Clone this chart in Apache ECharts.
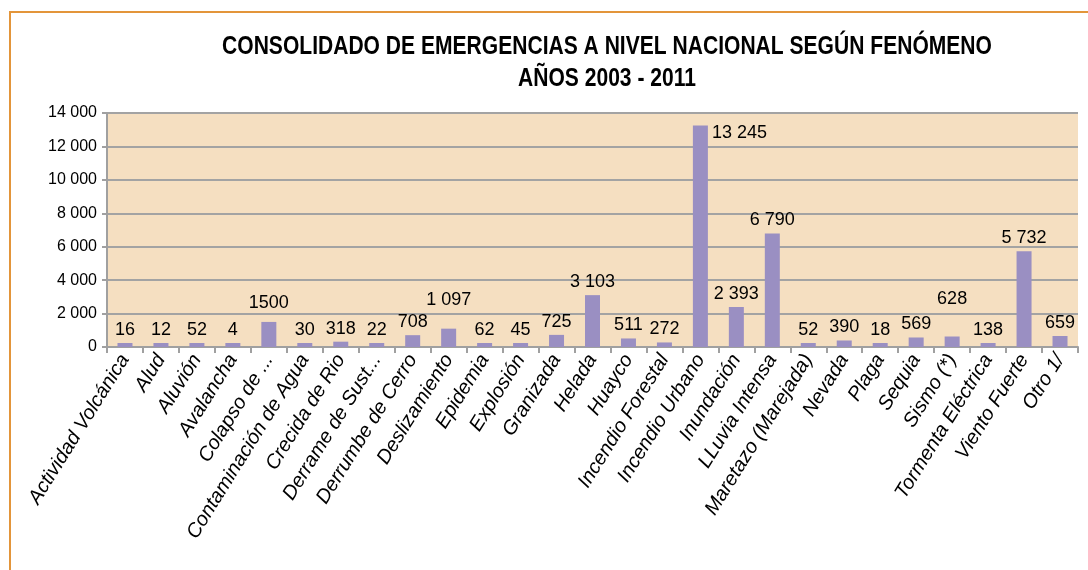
<!DOCTYPE html>
<html>
<head>
<meta charset="utf-8">
<script src="https://cdn.jsdelivr.net/npm/echarts@6/dist/echarts.min.js"></script>
<style>
  html, body { margin: 0; padding: 0; background: #ffffff; }
  #chart { width: 1088px; height: 570px; }
</style>
</head>
<body>
<div id="chart"></div>
<script>
// Emergencias por fenómeno, 2003 - 2011
const titleLines = [
  'CONSOLIDADO DE EMERGENCIAS A NIVEL NACIONAL SEGÚN FENÓMENO',
  'AÑOS 2003 - 2011'
];
const categories = [
  'Actividad Volcánica', 'Alud', 'Aluvión', 'Avalancha', 'Colapso de ...',
  'Contaminación de Agua', 'Crecida de Rio', 'Derrame de Sust...', 'Derrumbe de Cerro',
  'Deslizamiento', 'Epidemia', 'Explosión', 'Granizada', 'Helada', 'Huayco',
  'Incendio Forestal', 'Incendio Urbano', 'Inundación', 'LLuvia Intensa',
  'Maretazo (Marejada)', 'Nevada', 'Plaga', 'Sequia', 'Sismo (*)',
  'Tormenta Eléctrica', 'Viento Fuerte', 'Otro 1/'
];
const emergencias = [
  16, 12, 52, 4, 1500,
  30, 318, 22, 708,
  1097, 62, 45, 725, 3103, 511,
  272, 13245, 2393, 6790,
  52, 390, 18, 569, 628,
  138, 5732, 659
];
const yTicks = [0, 2000, 4000, 6000, 8000, 10000, 12000, 14000];

// categories whose value label is written without a thousands separator
const plainLabels = ['Colapso de ...'];
// extra vertical lift (px) for some value labels
const labelLift = { 'Colapso de ...': 6, 'Deslizamiento': 16, 'Sismo (*)': 24 };

function groupThousands(v) {
  return String(v).replace(/\B(?=(\d{3})+(?!\d))/g, ' ');
}

const seriesData = emergencias.map((v, i) => {
  const name = categories[i];
  const item = { value: v };
  if (name === 'Incendio Urbano') {
    item.label = { position: [19, -2], align: 'left', verticalAlign: 'top' };
  } else if (labelLift[name]) {
    item.label = { offset: [0, -labelLift[name]] };
  }
  return item;
});

// condensed bold heading, drawn as graphic text so it can be narrowed
const titleGraphics = titleLines.map((line, i) => ({
  type: 'text',
  x: 607,
  y: 47 + i * 32,
  scaleX: 0.81,
  silent: true,
  style: {
    text: line,
    x: 0,
    y: 0,
    align: 'center',
    verticalAlign: 'middle',
    font: "bold 26px 'Liberation Sans', Arial, sans-serif",
    fill: '#000000'
  }
}));

const chart = echarts.init(document.getElementById('chart'), null, { renderer: 'canvas' });

chart.setOption({
  animation: false,
  backgroundColor: '#ffffff',
  graphic: [{
    type: 'rect',
    shape: { x: 10, y: 12, width: 1100, height: 600 },
    style: { fill: 'none', stroke: '#E3953A', lineWidth: 2 },
    silent: true
  }].concat(titleGraphics),
  grid: {
    left: 107,
    right: 10,
    top: 113,
    bottom: 223,
    show: true,
    backgroundColor: '#F5DFC1',
    borderWidth: 0
  },
  xAxis: {
    type: 'category',
    data: categories,
    boundaryGap: true,
    axisLine: { show: true, lineStyle: { color: '#A0A0A0', width: 2 } },
    axisTick: { show: true, alignWithLabel: false, length: 6, lineStyle: { color: '#A0A0A0', width: 2 } },
    axisLabel: {
      interval: 0,
      rotate: 58,
      margin: 9,
      fontFamily: "'Liberation Sans', sans-serif",
      fontStyle: 'italic',
      fontSize: 20,
      color: '#000000'
    }
  },
  yAxis: {
    type: 'value',
    min: yTicks[0],
    max: yTicks[yTicks.length - 1],
    interval: yTicks[1] - yTicks[0],
    axisLine: { show: true, lineStyle: { color: '#A0A0A0', width: 2 } },
    axisTick: { show: true, length: 5, lineStyle: { color: '#A0A0A0', width: 2 } },
    splitLine: { show: true, lineStyle: { color: '#A3A3A3', width: 2 } },
    axisLabel: {
      margin: 10,
      fontFamily: "'Liberation Sans', sans-serif",
      fontSize: 16,
      color: '#000000',
      formatter: v => groupThousands(v)
    }
  },
  series: [{
    type: 'bar',
    data: seriesData,
    barWidth: 15,
    barMinHeight: 4,
    itemStyle: { color: '#9A8FC2' },
    label: {
      show: true,
      position: 'top',
      distance: 4,
      fontFamily: "'Liberation Sans', sans-serif",
      fontSize: 18,
      color: '#000000',
      formatter: p => plainLabels.includes(p.name) ? String(p.value) : groupThousands(p.value)
    }
  }]
});
</script>
</body>
</html>
